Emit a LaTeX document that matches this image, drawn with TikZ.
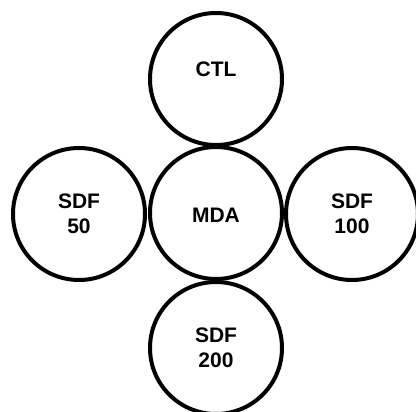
\documentclass[tikz,border=0pt]{standalone}
\usepackage{fontspec}
\setmainfont{Liberation Sans}

\begin{document}
\begin{tikzpicture}[x=1pt,y=-1pt]
					\useasboundingbox (0,0) rectangle (416,412);
					\tikzstyle{ring}=[draw,circle,line width=4pt,minimum size=132pt,inner sep=0pt,
						font=\fontsize{21}{25}\selectfont\bfseries,align=center];
					\tikzstyle{lbl}=[font=\fontsize{21}{25}\selectfont\bfseries,align=center];
					\path (216,79) node[ring] (ctl) {};
					\path (216,213) node[ring] (mda) {};
					\path (79,214) node[ring] (sdf50) {SDF\\50};
					\path (352,214) node[ring] (sdf100) {SDF\\100};
					\path (216,348) node[ring] (sdf200) {SDF\\200};
					\path (216,69) node[lbl] (ctltext) {CTL};
					\path (216,215.5) node[lbl] (mdatext) {MDA};
					\end{tikzpicture}
\end{document}
